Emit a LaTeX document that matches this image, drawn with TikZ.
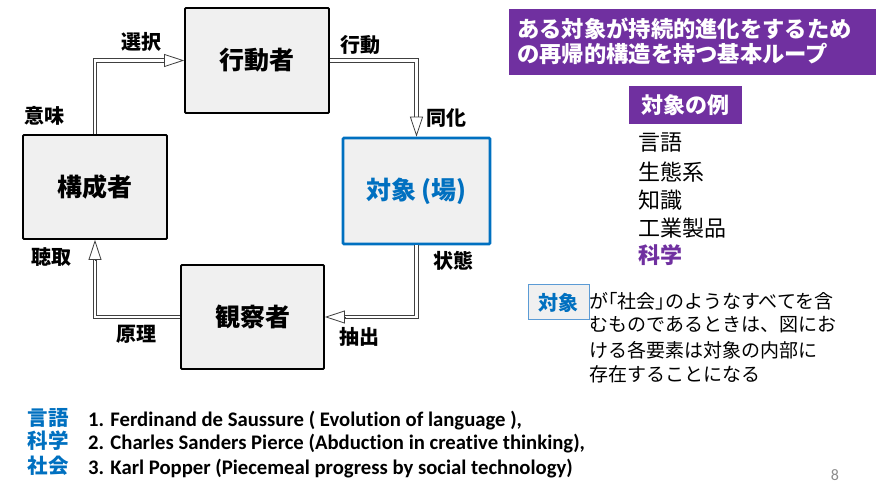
\documentclass[tikz,border=0pt]{standalone}
\usepackage{fontspec}
\setmainfont{Carlito}[Ligatures=NoCommon]
\newfontfamily\jp{Noto Sans CJK JP}
\usetikzlibrary{arrows.meta}
\definecolor{vio}{HTML}{7030A0}
\definecolor{blu}{HTML}{0070C0}
\definecolor{boxgray}{HTML}{F0F0F0}
\definecolor{lblue}{HTML}{5B9BD5}
\begin{document}
\begin{tikzpicture}[x=1pt,y=-1pt,
  mainbox/.style={draw=black, line width=1.8pt, fill=boxgray, rounded corners=1pt, inner sep=0pt, font=\jp\bfseries\fontsize{25}{30}\selectfont},
  lbl/.style={inner sep=0pt, font=\jp\bfseries\fontsize{20}{24}\selectfont},
  conn/.style={draw=black!75, line width=0.8pt, double=white, double distance=2.6pt, shorten >=17pt},
  arrowtip/.style={draw=black!75, line width=0.8pt, -{Triangle[fill=white, length=20pt, width=13pt]}},
  titletxt/.style={anchor=west, inner sep=0pt, text=white, font=\jp\bfseries\fontsize{22.3}{26}\selectfont},
  item/.style={anchor=west, inner sep=0pt, font=\jp\fontsize{22}{26}\selectfont},
  para/.style={anchor=west, inner sep=0pt, font=\jp\fontsize{19}{22}\selectfont},
  cjkref/.style={inner sep=0pt, text=blu, font=\jp\bfseries\fontsize{20.5}{24}\selectfont},
  latref/.style={anchor=base west, inner sep=0pt, font=\bfseries\fontsize{20.7}{24}\selectfont}
]
\useasboundingbox (0,0) rectangle (876,486);

% main boxes
\node[mainbox, minimum width=144pt, minimum height=105pt] (koudou) at (257,60.5) {行動者};
\node[mainbox, minimum width=144pt, minimum height=104pt] (kousei) at (95,187) {構成者};
\node[mainbox, draw=blu, line width=2.6pt, text=blu, minimum width=147pt, minimum height=106pt] (taishou) at (416.5,191) {\raisebox{-4pt}{対象\,(場)}};
\node[mainbox, minimum width=143pt, minimum height=104pt] (kansatsu) at (252.5,317) {観察者};

% connectors
\draw[conn] (kousei.north) |- (koudou.west);
\draw[arrowtip] ([xshift=-20pt]koudou.west) -- (koudou.west);
\draw[conn] (koudou.east) -| (taishou.north);
\draw[arrowtip] ([yshift=20pt]taishou.north) -- (taishou.north);
\draw[conn] (taishou.south) |- (kansatsu.east);
\draw[arrowtip] ([xshift=20pt]kansatsu.east) -- (kansatsu.east);
\draw[conn] (kansatsu.west) -| (kousei.south);
\draw[arrowtip] ([yshift=-20pt]kousei.south) -- (kousei.south);

% connector labels
\node[lbl] (l1) at (141,42) {選択};
\node[lbl] (l2) at (44,116) {意味};
\node[lbl] (l3) at (360,45) {行動};
\node[lbl] (l4) at (446,118) {同化};
\node[lbl] (l5) at (51,257) {聴取};
\node[lbl] (l6) at (453,261) {状態};
\node[lbl] (l7) at (136,334) {原理};
\node[lbl] (l8) at (359,337) {抽出};

% title
\node[fill=vio, minimum width=367pt, minimum height=66pt, inner sep=0pt] (title) at (692.5,42) {};
\node[titletxt] (t1) at (517,29) {ある対象が持続的進化をするため};
\node[titletxt] (t2) at (517,54) {の再帰的構造を持つ基本ループ};

% examples
\node[fill=vio, text=white, font=\jp\bfseries\fontsize{22}{26}\selectfont, minimum width=113pt, minimum height=38pt, inner sep=0pt] (rei) at (685.5,105) {対象の例};
\node[item] (i1) at (638,143) {言語};
\node[item] (i2) at (638,172) {生態系};
\node[item] (i3) at (638,200) {知識};
\node[item] (i4) at (638,228) {工業製品};
\node[item, text=vio, font=\jp\bfseries\fontsize{22}{26}\selectfont] (i5) at (638,255) {科学};

% note
\node[draw=lblue, line width=1pt, fill=boxgray, text=blu, font=\jp\bfseries\fontsize{20}{24}\selectfont, minimum width=61pt, minimum height=35pt, inner sep=0pt] (tbox) at (558.5,302.5) {対象};
\node[para] (p1) at (589,301) {が｢社会｣のようなすべてを含};
\node[para] (p2) at (589,325) {むものであるときは、図にお};
\node[para] (p3) at (589,350) {ける各要素は対象の内部に};
\node[para] (p4) at (589,374) {存在することになる};

% references
\node[cjkref] (r1k) at (48,418) {言語};
\node[cjkref] (r2k) at (48,441) {科学};
\node[cjkref] (r3k) at (48,466) {社会};
\node[latref] (r1) at (88,426) {1. Ferdinand de Saussure ( Evolution of language ),};
\node[latref] (r2) at (88,449.5) {2. Charles Sanders Pierce (Abduction in creative thinking),};
\node[latref] (r3) at (88,474) {3. Karl Popper (Piecemeal progress by social technology)};

\node[inner sep=0pt, text=black!45, font=\fontsize{16}{18}\selectfont] (pg) at (835,475.5) {8};
\end{tikzpicture}
\end{document}
